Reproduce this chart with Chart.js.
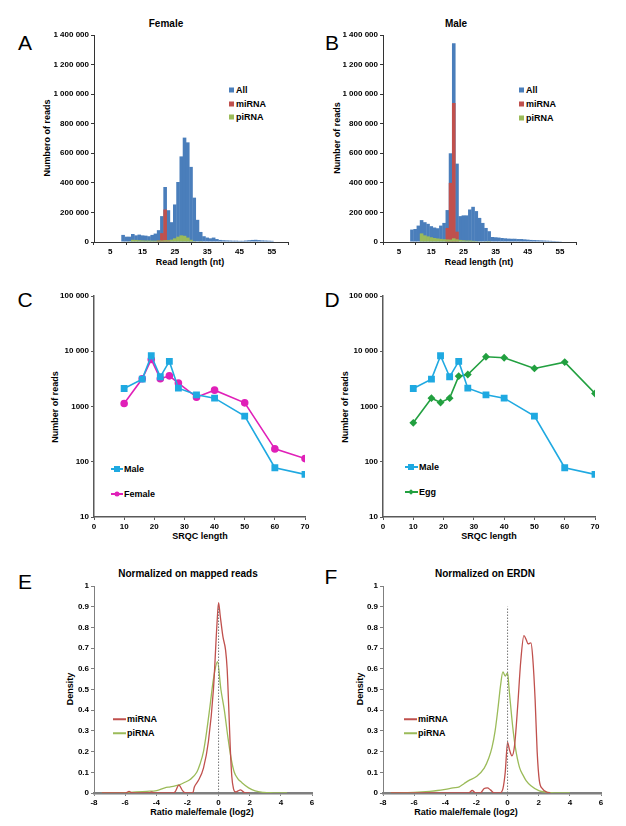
<!DOCTYPE html>
<html>
<head>
<meta charset="utf-8">
<script src="https://cdn.jsdelivr.net/npm/chart.js@4.4.1/dist/chart.umd.min.js"></script>
<style>
  body { margin: 0; background: #fff; }
  #page { position: relative; width: 626px; height: 826px; overflow: hidden; font-family: "Liberation Sans", Arial, sans-serif; }
  canvas { position: absolute; }
  .t { position: absolute; white-space: nowrap; font-weight: bold; color: #000; transform: translate(-50%, -50%); }
  .ttl { font-size: 10px; }
  .ax { font-size: 9px; }
  .vert { transform: translate(-50%, -50%) rotate(-90deg); }
  .letter { position: absolute; font-size: 21px; transform: translate(-50%, -50%); color: #000; }
  .lg { position: absolute; font-size: 9px; font-weight: bold; transform: translateY(-50%); }
  .sq { position: absolute; width: 5px; height: 5px; transform: translateY(-50%); }
  .ln { position: absolute; height: 2px; transform: translateY(-50%); }
  .mk { position: absolute; transform: translate(-50%, -50%); }
</style>
</head>
<body>
<div id="page">
  <div class="letter" style="left:25px;top:43px">A</div>
  <div class="letter" style="left:332px;top:43px">B</div>
  <div class="letter" style="left:25px;top:300px">C</div>
  <div class="letter" style="left:332px;top:300px">D</div>
  <div class="letter" style="left:25px;top:582px">E</div>
  <div class="letter" style="left:331px;top:577px">F</div>

  <div class="t ttl" style="left:166px;top:23px">Female</div>
  <div class="t ttl" style="left:456px;top:23px">Male</div>
  <div class="t ttl" style="left:188px;top:573px">Normalized on mapped reads</div>
  <div class="t ttl" style="left:485px;top:573px">Normalized on ERDN</div>

  <div class="t ax vert" style="left:47px;top:138px">Numbero of reads</div>
  <div class="t ax vert" style="left:337px;top:138px">Number of reads</div>
  <div class="t ax vert" style="left:55px;top:407px">Number of reads</div>
  <div class="t ax vert" style="left:345px;top:407px">Number of reads</div>
  <div class="t ax vert" style="left:70px;top:689px">Density</div>
  <div class="t ax vert" style="left:360px;top:689px">Density</div>

  <div class="t ax" style="left:190px;top:262px">Read length (nt)</div>
  <div class="t ax" style="left:479px;top:262px">Read length (nt)</div>
  <div class="t ax" style="left:200px;top:536px">SRQC length</div>
  <div class="t ax" style="left:489px;top:536px">SRQC length</div>
  <div class="t ax" style="left:202px;top:812px">Ratio male/female (log2)</div>
  <div class="t ax" style="left:466px;top:812px">Ratio male/female (log2)</div>

  <!-- legends A / B -->
  <div class="sq" style="left:229px;top:90px;background:#4A7EBB"></div><div class="lg" style="left:236px;top:90px">All</div>
  <div class="sq" style="left:229px;top:103.5px;background:#C0504D"></div><div class="lg" style="left:236px;top:103.5px">miRNA</div>
  <div class="sq" style="left:229px;top:117px;background:#9BBB59"></div><div class="lg" style="left:236px;top:117px">piRNA</div>
  <div class="sq" style="left:519px;top:89.5px;background:#4A7EBB"></div><div class="lg" style="left:526px;top:89.5px">All</div>
  <div class="sq" style="left:519px;top:103.5px;background:#C0504D"></div><div class="lg" style="left:526px;top:103.5px">miRNA</div>
  <div class="sq" style="left:519px;top:117.5px;background:#9BBB59"></div><div class="lg" style="left:526px;top:117.5px">piRNA</div>

  <!-- legends C / D -->
  <div class="ln" style="left:111px;top:469px;width:12px;background:#1FA9E1"></div>
  <div class="mk" style="left:117px;top:469px;width:6px;height:6px;background:#1FA9E1"></div>
  <div class="lg" style="left:124px;top:469px">Male</div>
  <div class="ln" style="left:111px;top:494px;width:12px;background:#E020B8"></div>
  <div class="mk" style="left:117px;top:494px;width:5px;height:5px;border-radius:50%;background:#E020B8"></div>
  <div class="lg" style="left:124px;top:494px">Female</div>
  <div class="ln" style="left:405px;top:467px;width:13px;background:#1FA9E1"></div>
  <div class="mk" style="left:411px;top:467px;width:6px;height:6px;background:#1FA9E1"></div>
  <div class="lg" style="left:419px;top:467px">Male</div>
  <div class="ln" style="left:405px;top:492px;width:13px;background:#22A040"></div>
  <div class="mk" style="left:411px;top:492px;width:4px;height:4px;background:#22A040;transform:translate(-50%,-50%) rotate(45deg)"></div>
  <div class="lg" style="left:419px;top:492px">Egg</div>

  <!-- legends E / F -->
  <div class="ln" style="left:113px;top:719px;width:13px;height:1.5px;background:#C0504D"></div><div class="lg" style="left:127px;top:719px">miRNA</div>
  <div class="ln" style="left:113px;top:733px;width:13px;height:1.5px;background:#9BBB59"></div><div class="lg" style="left:127px;top:733px">piRNA</div>
  <div class="ln" style="left:404px;top:719px;width:13px;height:1.5px;background:#C0504D"></div><div class="lg" style="left:418px;top:719px">miRNA</div>
  <div class="ln" style="left:404px;top:733px;width:13px;height:1.5px;background:#9BBB59"></div><div class="lg" style="left:418px;top:733px">piRNA</div>
</div>

<script>
// ---- data: read length histograms (A, B) ----
const readLen = [9,10,11,12,13,14,15,16,17,18,19,20,21,22,23,24,25,26,27,28,29,30,31,32,33,34,35,36,37,38,39,40,41,42,43,44,45,46,47,48,49,50,51,52,53,54,55];
const femaleAll = [48000,36000,36000,54000,45000,50000,45000,43000,39000,48000,57000,80000,175000,372000,215000,134000,254000,406000,579000,706000,674000,508000,300000,150000,68000,39000,30000,25000,30000,20000,14000,12000,11000,10000,9000,9000,8000,8000,10000,12000,14000,15000,13000,11000,10000,9000,8000];
const femaleMi  = [0,0,0,0,0,0,0,0,0,0,3000,10000,60000,220000,12000,3000,0,0,0,0,0,0,0,0,0,0,0,0,0,0,0,0,0,0,0,0,0,0,0,0,0,0,0,0,0,0,0];
const femalePi  = [0,0,2000,15000,14000,12000,11000,10000,10000,9000,9000,10000,10000,12000,12000,16000,25000,36000,45000,42000,30000,15000,6000,3000,1000,0,0,0,0,0,0,0,0,0,0,0,0,0,0,0,0,0,0,0,0,0,0];
const maleAll = [84000,88000,111000,148000,134000,123000,107000,98000,93000,111000,129000,216000,600000,1345000,530000,175000,180000,180000,220000,238000,209000,163000,129000,95000,73000,34000,32000,30000,27000,25000,23000,22000,22000,20000,20000,18000,16000,14000,13000,12000,11000,10000,9000,8000,7000,6000,5000];
const maleMi  = [0,0,0,0,0,0,0,0,0,0,0,95000,400000,940000,70000,0,0,0,0,0,0,0,0,0,0,0,0,0,0,0,0,0,0,0,0,0,0,0,0,0,0,0,0,0,0,0,0];
const malePi  = [0,0,0,58000,45000,38000,32000,27000,24000,21000,19000,17000,16000,25000,18000,14000,12000,10000,10000,8000,6000,4000,3000,2000,1000,0,0,0,0,0,0,0,0,0,0,0,0,0,0,0,0,0,0,0,0,0,0];
const histXTicks = [5,15,25,35,45,55];
const histYTicks = [0,200000,400000,600000,800000,1000000,1200000,1400000];

// ---- data: SRQC length (C, D) ----
const srqcLen = [10,16,19,22,25,28,34,40,50,60,70];
const srqcMale   = [2120,3130,8290,3450,6540,2150,1625,1415,668,78,59];
const srqcFemale = [1133,3170,7110,3170,3590,2650,1475,1977,1164,171,114];
const srqcEgg    = [506,1416,1183,1416,3545,3800,7950,7620,4885,6360,1720];
const srqcXTicks = [0,10,20,30,40,50,60,70];
const srqcYTicks = [10,100,1000,10000,100000];

// ---- data: density of log2 ratio (E, F) ----
const eMiX = [-7.5,-6,-5.9,-5.75,-5.6,-5,-4.5,-4.3,-4.1,-3,-2.8,-2.55,-2.3,-2.1,-1.66,-1.55,-1.3,-0.97,-0.65,-0.33,-0.1,0,0.1,0.28,0.45,0.55,0.65,0.75,0.85,0.96,1.1,1.25,1.4,1.55,1.7,2];
const eMiY = [0,0,0.002,0.008,0.002,0,0,0.005,0,0,0.005,0.038,0.01,0,0,0.03,0.06,0.12,0.25,0.5,0.82,0.92,0.86,0.755,0.69,0.6,0.42,0.22,0.08,0.02,0.005,0.01,0.015,0.008,0,0];
const ePiX = [-7.5,-6,-5.5,-4.6,-3.98,-3.45,-3.1,-2.48,-2.16,-1.83,-1.4,-1.19,-0.97,-0.76,-0.55,-0.33,-0.07,0.15,0.37,0.58,0.8,1.01,1.23,1.5,1.93,2.35,2.9,3.5,4.4];
const ePiY = [0,0.002,0.004,0.008,0.012,0.025,0.03,0.04,0.052,0.065,0.1,0.14,0.2,0.3,0.42,0.55,0.634,0.5,0.4,0.28,0.17,0.1,0.07,0.05,0.025,0.01,0.003,0.001,0];
const fMiX = [-7.5,-3,-2.5,-2.27,-2.05,-1.75,-1.5,-1.3,-1.1,-0.85,-0.5,-0.3,-0.15,0,0.12,0.28,0.45,0.65,0.85,1.05,1.2,1.32,1.5,1.62,1.77,1.9,2.04,2.25,2.5,2.75];
const fMiY = [0,0,0,0.012,0,0,0.022,0.025,0.015,0,0,0.02,0.1,0.245,0.21,0.18,0.23,0.42,0.64,0.76,0.74,0.72,0.725,0.65,0.45,0.2,0.06,0.02,0.005,0];
const fPiX = [-7.5,-6,-5,-4.5,-4,-3.5,-3.1,-2.8,-2.5,-2,-1.5,-1.2,-1,-0.8,-0.6,-0.45,-0.3,-0.15,0,0.1,0.33,0.5,0.76,1,1.19,1.5,2.04,2.5,3,4];
const fPiY = [0,0.003,0.008,0.012,0.018,0.025,0.03,0.045,0.06,0.08,0.12,0.17,0.22,0.3,0.42,0.52,0.585,0.565,0.58,0.5,0.32,0.22,0.125,0.085,0.06,0.035,0.01,0.004,0.001,0];
const zeroLine = [0, 0.9];
const ratioXTicks = [-8,-6,-4,-2,0,2,4,6];
const densYTicks = [0,0.1,0.2,0.3,0.4,0.5,0.6,0.7,0.8,0.9,1];

Chart.defaults.font.family = '"Liberation Sans", Arial, sans-serif';
Chart.defaults.font.size = 8;
Chart.defaults.font.weight = 'bold';
Chart.defaults.color = '#000';
Chart.defaults.animation = false;

const spaced = v => String(v).replace(/\B(?=(\d{3})+(?!\d))/g, ' ');
const pts = (xs, ys) => xs.map((x, i) => ({ x, y: ys[i] }));
const barPts = (xs, ys) => xs.map((x, i) => ({ x, y: ys[i] || null }));

// area = chart area in page pixels
function panel(area, data, xOpt, yOpt) {
  const padL = 70, padT = 12, padR = 22, padB = 30;
  const c = document.createElement('canvas');
  c.width = area.r - area.l + padL + padR;
  c.height = area.b - area.t + padT + padB;
  c.style.left = (area.l - padL) + 'px';
  c.style.top = (area.t - padT) + 'px';
  document.getElementById('page').appendChild(c);
  xOpt.afterFit = s => { s.height = padB; };
  yOpt.afterFit = s => { s.width = padL; };
  new Chart(c.getContext('2d'), {
    type: data.type || 'line',
    data: { datasets: data.datasets },
    options: {
      responsive: false,
      layout: { padding: { top: padT, right: padR, left: 0, bottom: 0 } },
      plugins: { legend: { display: false }, tooltip: { enabled: false } },
      scales: { x: xOpt, y: yOpt }
    }
  });
}

function axis(type, min, max, tickVals, fmt, border) {
  return {
    type, min, max,
    afterBuildTicks: s => { s.ticks = tickVals.map(v => ({ value: v })); },
    ticks: { autoSkip: false, padding: 2, maxRotation: 0, callback: fmt },
    grid: { drawOnChartArea: false, drawTicks: true, tickLength: 3, color: border.color, lineWidth: 1 },
    border: { display: true, color: border.color, width: border.width }
  };
}

function histPanel(area, all, mi, pi) {
  const bar = { grouped: false, barPercentage: 1.12, categoryPercentage: 1, borderWidth: 0 };
  panel(area, {
    type: 'bar',
    datasets: [
      Object.assign({ label: 'All', data: barPts(readLen, all), backgroundColor: '#4A7EBB', order: 3 }, bar),
      Object.assign({ label: 'miRNA', data: barPts(readLen, mi), backgroundColor: '#C0504D', order: 2 }, bar),
      Object.assign({ label: 'piRNA', data: barPts(readLen, pi), backgroundColor: '#9BBB59', order: 1 }, bar)
    ]
  },
  axis('linear', 5, 55, histXTicks, v => v, { color: '#333', width: 1 }),
  axis('linear', 0, 1400000, histYTicks, v => spaced(v), { color: '#333', width: 1 }));
}

function srqcPanel(area, second) {
  panel(area, {
    datasets: [
      { label: 'Male', data: pts(srqcLen, srqcMale), borderColor: '#1FA9E1', backgroundColor: '#1FA9E1', borderWidth: 1.6, pointStyle: 'rect', pointRadius: 3.7, tension: 0 },
      second
    ]
  },
  axis('linear', 0, 70, srqcXTicks, v => v, { color: '#595959', width: 1.5 }),
  axis('logarithmic', 10, 100000, srqcYTicks, v => (v >= 10000 ? spaced(v) : String(v)), { color: '#595959', width: 1.5 }));
}

function densPanel(area, miX, miY, piX, piY) {
  const common = { pointRadius: 0, borderWidth: 1.3, cubicInterpolationMode: 'monotone', fill: false };
  const x = axis('linear', -8, 6, ratioXTicks, v => v, { color: '#7F7F7F', width: 2.5 });
  const y = axis('linear', 0, 1, densYTicks, v => v, { color: '#7F7F7F', width: 1 });
  panel(area, {
    datasets: [
      { label: 'zero', data: pts([0, 0], zeroLine), borderColor: '#777', borderWidth: 1, borderDash: [1.5, 1.5], pointRadius: 0 },
      Object.assign({ label: 'miRNA', data: pts(miX, miY), borderColor: '#C0504D' }, common),
      Object.assign({ label: 'piRNA', data: pts(piX, piY), borderColor: '#9BBB59' }, common)
    ]
  }, x, y);
}

histPanel({ l: 94, r: 288, t: 35, b: 242 }, femaleAll, femaleMi, femalePi);
histPanel({ l: 383, r: 576, t: 35, b: 242 }, maleAll, maleMi, malePi);

srqcPanel({ l: 94, r: 305, t: 296, b: 517 },
  { label: 'Female', data: pts(srqcLen, srqcFemale), borderColor: '#E020B8', backgroundColor: '#E020B8', borderWidth: 1.6, pointStyle: 'circle', pointRadius: 3, tension: 0 });
srqcPanel({ l: 383, r: 595, t: 296, b: 517 },
  { label: 'Egg', data: pts(srqcLen, srqcEgg), borderColor: '#22A040', backgroundColor: '#22A040', borderWidth: 1.6, pointStyle: 'rectRot', pointRadius: 2.8, tension: 0 });

densPanel({ l: 94, r: 312, t: 586, b: 793 }, eMiX, eMiY, ePiX, ePiY);
densPanel({ l: 383, r: 601, t: 586, b: 793 }, fMiX, fMiY, fPiX, fPiY);
</script>
</body>
</html>
